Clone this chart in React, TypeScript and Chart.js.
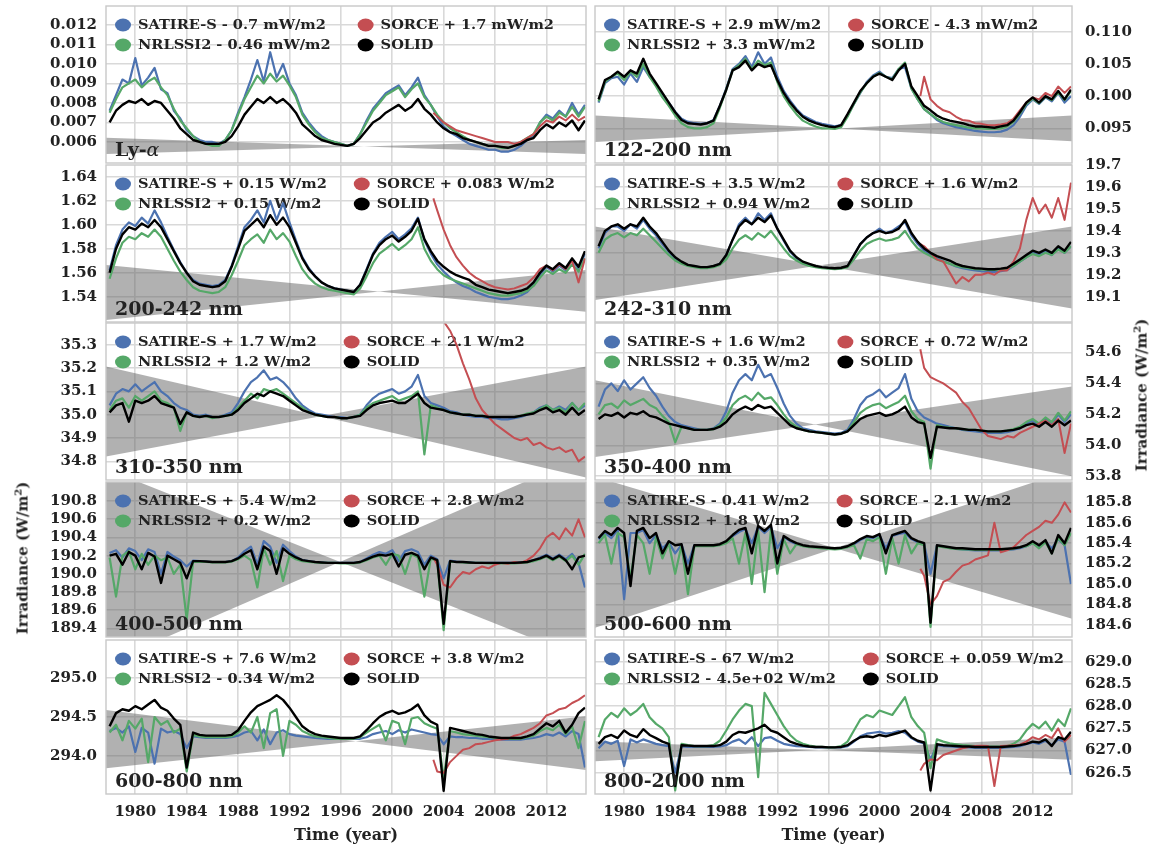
import React, { useEffect, useRef } from "react";
import { Chart, registerables } from "chart.js";
Chart.register(...registerables);

// ---------------- shared axes data ----------------
const years = [
  1978, 1978.5, 1979, 1979.5, 1980, 1980.5, 1981, 1981.5, 1982, 1982.5,
  1983, 1983.5, 1984, 1984.5, 1985, 1985.5, 1986, 1986.5, 1987, 1987.5,
  1988, 1988.5, 1989, 1989.5, 1990, 1990.5, 1991, 1991.5, 1992, 1992.5,
  1993, 1993.5, 1994, 1994.5, 1995, 1995.5, 1996, 1996.5, 1997, 1997.5,
  1998, 1998.5, 1999, 1999.5, 2000, 2000.5, 2001, 2001.5, 2002, 2002.5,
  2003, 2003.5, 2004, 2004.5, 2005, 2005.5, 2006, 2006.5, 2007, 2007.5,
  2008, 2008.5, 2009, 2009.5, 2010, 2010.5, 2011, 2011.5, 2012, 2012.5,
  2013, 2013.5, 2014, 2014.5, 2015,
];
const sorceYears = [
  2003.2, 2003.5, 2004, 2004.5, 2005, 2005.5, 2006, 2006.5, 2007, 2007.5,
  2008, 2008.5, 2009, 2009.5, 2010, 2010.5, 2011, 2011.5, 2012, 2012.5,
  2013, 2013.5, 2014, 2014.5, 2015,
];
const bandYears = [1977.72, 2015.08];
const xTicks = [1980, 1984, 1988, 1992, 1996, 2000, 2004, 2008, 2012];

// ---------------- Ly-alpha ----------------
const lyaTicks = [0.006, 0.007, 0.008, 0.009, 0.01, 0.011, 0.012];
const lyaLegend = ["SATIRE-S - 0.7 mW/m2", "SORCE + 1.7 mW/m2", "NRLSSI2 - 0.46 mW/m2", "SOLID"];
const lyaSatire = [
  0.0076, 0.0084, 0.0092, 0.009, 0.0103, 0.0089, 0.0093, 0.0098, 0.0087, 0.0085,
  0.0076, 0.0072, 0.0066, 0.0063, 0.0061, 0.006, 0.006, 0.0059, 0.0061, 0.0066,
  0.0075, 0.0083, 0.0092, 0.0102, 0.0091, 0.0106, 0.0093, 0.01, 0.009, 0.0084,
  0.0075, 0.007, 0.0066, 0.0063, 0.0061, 0.006, 0.0059, 0.0058, 0.0059, 0.0064,
  0.0071, 0.0077, 0.0081, 0.0085, 0.0087, 0.0089, 0.0084, 0.0088, 0.0093, 0.0084,
  0.0079, 0.0073, 0.0068, 0.0065, 0.0063, 0.0061, 0.0059, 0.0058, 0.0057, 0.0056,
  0.0056, 0.0055, 0.0055, 0.0056, 0.0058, 0.0061, 0.0063, 0.007, 0.0074, 0.0072,
  0.0076, 0.0073, 0.008, 0.0074, 0.0079,
];
const lyaNrl = [
  0.0075, 0.0082, 0.0088, 0.009, 0.0092, 0.0088, 0.0091, 0.0093, 0.0088, 0.0084,
  0.0077, 0.0071, 0.0067, 0.0063, 0.006, 0.0059, 0.0058, 0.0058, 0.0061, 0.0066,
  0.0074, 0.0082, 0.0088, 0.0094, 0.009, 0.0095, 0.0091, 0.0094, 0.0089, 0.0083,
  0.0074, 0.0069, 0.0065, 0.0062, 0.0061, 0.006, 0.0059, 0.0058, 0.0059, 0.0064,
  0.007, 0.0076, 0.008, 0.0084, 0.0086, 0.0088, 0.0083, 0.0087, 0.009, 0.0083,
  0.0079, 0.0074, 0.007, 0.0067, 0.0065, 0.0063, 0.0061, 0.006, 0.0059, 0.0058,
  0.0058, 0.0057, 0.0057, 0.0058, 0.006, 0.0062, 0.0064, 0.007, 0.0073, 0.0071,
  0.0075, 0.0073, 0.0078, 0.0073, 0.0078,
];
const lyaSolid = [
  0.007, 0.0076, 0.0079, 0.0081, 0.008, 0.0082, 0.0079, 0.0081, 0.008, 0.0076,
  0.0072, 0.0067, 0.0064, 0.0061, 0.006, 0.0059, 0.0059, 0.0059, 0.006, 0.0063,
  0.0068, 0.0074, 0.0078, 0.0082, 0.008, 0.0083, 0.008, 0.0082, 0.0079, 0.0075,
  0.0069, 0.0066, 0.0063, 0.0061, 0.006, 0.0059, 0.00585, 0.0058, 0.0059, 0.0062,
  0.0066, 0.007, 0.0072, 0.0075, 0.0077, 0.0079, 0.0076, 0.0078, 0.0082, 0.0077,
  0.0074, 0.007, 0.0067, 0.0065, 0.0064, 0.0062, 0.0061, 0.006, 0.0059, 0.0058,
  0.0058, 0.00575, 0.0057, 0.0058, 0.0059, 0.0061, 0.0062, 0.0066, 0.0069, 0.0067,
  0.007, 0.0068, 0.0071, 0.0066, 0.0071,
];
const lyaSorce = [
  0.0075, 0.0073, 0.007, 0.0068, 0.0066, 0.0065, 0.0064, 0.0063, 0.0062, 0.0061,
  0.006, 0.006, 0.006, 0.0059, 0.006, 0.0062, 0.0064, 0.0068, 0.0071, 0.007,
  0.0073, 0.0071, 0.0074, 0.0071, 0.0073,
];
const lyaBandP = [0.00538, 0.0061];
const lyaBandQ = [0.00622, 0.00538];

// ---------------- 122-200 nm ----------------
const fuvTicks = [0.095, 0.1, 0.105, 0.11];
const fuvLegend = ["SATIRE-S + 2.9 mW/m2", "SORCE - 4.3 mW/m2", "NRLSSI2 + 3.3 mW/m2", "SOLID"];
const fuvSatire = [
  0.099, 0.102, 0.1028, 0.103, 0.1018, 0.1035, 0.1022, 0.1045, 0.103, 0.1018,
  0.1003, 0.099, 0.0976, 0.0965, 0.096, 0.0958, 0.0957, 0.0958, 0.0963, 0.0985,
  0.1012, 0.1042, 0.105, 0.1062, 0.1045, 0.1068, 0.105, 0.106, 0.103, 0.1008,
  0.0993, 0.098, 0.097, 0.0965, 0.096, 0.0957, 0.0955, 0.0953, 0.0955, 0.097,
  0.0988, 0.1005, 0.1022, 0.1032, 0.1038, 0.103, 0.1028, 0.1042, 0.1045, 0.1012,
  0.0995, 0.098, 0.0972, 0.0963, 0.0958, 0.0955, 0.0952, 0.095, 0.0948, 0.0946,
  0.0945, 0.0944, 0.0944, 0.0945, 0.0948, 0.0955, 0.0968, 0.0985, 0.0995, 0.0988,
  0.0998, 0.0992, 0.1005, 0.099, 0.1,
];
const fuvNrl = [
  0.0992, 0.1022, 0.103, 0.1035, 0.1025, 0.1038, 0.103, 0.105, 0.103, 0.1015,
  0.0998, 0.0985, 0.097, 0.0958, 0.0952, 0.095, 0.095, 0.0952, 0.0958, 0.0982,
  0.101, 0.104, 0.1048, 0.1058, 0.1042, 0.1055, 0.1048, 0.1052, 0.1022, 0.1,
  0.0985, 0.0972, 0.0962, 0.0957, 0.0953, 0.095, 0.095, 0.0949, 0.0952, 0.0968,
  0.0988, 0.1006, 0.102, 0.103, 0.1036, 0.103, 0.1026, 0.1042, 0.1052, 0.1012,
  0.0995, 0.098, 0.0972, 0.0965, 0.096, 0.0957, 0.0955, 0.0953, 0.0951, 0.095,
  0.095, 0.0949, 0.0949, 0.095, 0.0953, 0.096, 0.0973, 0.0988, 0.0996, 0.0989,
  0.0999, 0.0994, 0.1006, 0.0994, 0.1008,
];
const fuvSolid = [
  0.0995, 0.1025, 0.103, 0.1038, 0.103, 0.104, 0.1035, 0.1058, 0.1035, 0.102,
  0.1005, 0.099, 0.0975, 0.0963, 0.0958, 0.0957, 0.0956, 0.0958, 0.0962, 0.0985,
  0.101, 0.104, 0.1045, 0.1055, 0.104, 0.105, 0.1045, 0.1048, 0.1025, 0.1005,
  0.099, 0.0978, 0.0968, 0.0962, 0.0958, 0.0955, 0.0953, 0.0952, 0.0955, 0.0972,
  0.099, 0.1008, 0.102, 0.103, 0.1035, 0.103, 0.1025, 0.104, 0.105, 0.1015,
  0.1, 0.0985, 0.0978, 0.097, 0.0965, 0.0962, 0.096, 0.0958, 0.0955, 0.0953,
  0.0953, 0.0952, 0.0951, 0.0953, 0.0955, 0.0962, 0.0975, 0.099, 0.0998, 0.099,
  0.1, 0.0995, 0.1008, 0.0995, 0.101,
];
const fuvSorce = [
  0.1, 0.103, 0.0995, 0.0985, 0.0978, 0.0975, 0.0968, 0.0963, 0.0962, 0.0958,
  0.0957, 0.0955, 0.0955, 0.0956, 0.0958, 0.0965, 0.0978, 0.099, 0.0998, 0.0995,
  0.1005, 0.1, 0.1015, 0.1005, 0.1015,
];
const fuvBandP = [0.0929, 0.097];
const fuvBandQ = [0.097, 0.093];

// ---------------- 200-242 nm ----------------
const mid1Ticks = [1.54, 1.56, 1.58, 1.6, 1.62, 1.64];
const mid1Legend = ["SATIRE-S + 0.15 W/m2", "SORCE + 0.083 W/m2", "NRLSSI2 + 0.15 W/m2", "SOLID"];
const mid1Satire = [
  1.562, 1.583, 1.596, 1.602, 1.599, 1.606, 1.601, 1.612, 1.602, 1.59,
  1.579, 1.569, 1.56, 1.554, 1.551, 1.55, 1.549, 1.55, 1.554, 1.566,
  1.582, 1.598, 1.604, 1.612, 1.602, 1.62, 1.604, 1.618, 1.602, 1.587,
  1.573, 1.564, 1.557, 1.552, 1.549, 1.547, 1.546, 1.545, 1.544, 1.55,
  1.563, 1.576, 1.585, 1.59, 1.594, 1.588, 1.592, 1.597, 1.606, 1.587,
  1.576, 1.567, 1.561, 1.556, 1.552, 1.549, 1.547, 1.544, 1.542, 1.54,
  1.539, 1.538, 1.538, 1.539, 1.541, 1.544, 1.55, 1.558, 1.565, 1.561,
  1.566, 1.562, 1.571, 1.563, 1.576,
];
const mid1Nrl = [
  1.555, 1.572, 1.585, 1.59, 1.588, 1.593, 1.59, 1.596, 1.59, 1.58,
  1.57, 1.561, 1.554, 1.548, 1.545, 1.544, 1.543, 1.544, 1.548, 1.558,
  1.57, 1.583, 1.588, 1.592, 1.585, 1.596, 1.588, 1.593, 1.586, 1.574,
  1.563, 1.556, 1.551, 1.548, 1.546, 1.545, 1.544, 1.543, 1.542, 1.547,
  1.557, 1.568, 1.576, 1.58, 1.584, 1.579, 1.583, 1.588, 1.598, 1.58,
  1.57, 1.563, 1.558, 1.555, 1.553, 1.551, 1.549, 1.547, 1.545, 1.543,
  1.542, 1.541, 1.541, 1.542, 1.543, 1.545, 1.549, 1.556, 1.562, 1.559,
  1.563, 1.56, 1.567, 1.561, 1.572,
];
const mid1Solid = [
  1.56, 1.58, 1.592, 1.598, 1.596, 1.601, 1.598, 1.604, 1.598, 1.588,
  1.578, 1.568, 1.56, 1.553, 1.55, 1.549, 1.548, 1.549, 1.553, 1.565,
  1.58, 1.595, 1.6, 1.605, 1.598, 1.608, 1.6, 1.606, 1.598, 1.585,
  1.572, 1.563, 1.557, 1.552, 1.549, 1.547, 1.546, 1.545, 1.544, 1.55,
  1.562, 1.575, 1.583, 1.588, 1.591, 1.586, 1.59, 1.595, 1.605, 1.588,
  1.578, 1.57, 1.565, 1.561, 1.558, 1.556, 1.554, 1.55, 1.548, 1.546,
  1.545, 1.544, 1.543, 1.544, 1.545, 1.547, 1.552, 1.56, 1.566, 1.563,
  1.568, 1.564, 1.572, 1.565, 1.578,
];
const mid1Sorce = [
  1.622, 1.612, 1.596, 1.583, 1.573, 1.566, 1.56, 1.556, 1.553, 1.55,
  1.548, 1.547, 1.546, 1.547, 1.549, 1.551, 1.556, 1.563, 1.566, 1.562,
  1.567, 1.563, 1.57, 1.552, 1.572,
];
const mid1BandP = [1.5206, 1.5623];
const mid1BandQ = [1.5664, 1.5275];

// ---------------- 242-310 nm ----------------
const mid2Ticks = [19.1, 19.2, 19.3, 19.4, 19.5, 19.6, 19.7];
const mid2Legend = ["SATIRE-S + 3.5 W/m2", "SORCE + 1.6 W/m2", "NRLSSI2 + 0.94 W/m2", "SOLID"];
const mid2Satire = [
  19.32, 19.39, 19.42, 19.42, 19.4, 19.43, 19.41, 19.45, 19.41, 19.38,
  19.34, 19.305, 19.275, 19.255, 19.243, 19.238, 19.233, 19.233, 19.238, 19.25,
  19.29, 19.36, 19.43, 19.46, 19.43, 19.48, 19.45, 19.48, 19.41, 19.355,
  19.305, 19.275, 19.255, 19.245, 19.237, 19.233, 19.23, 19.228, 19.23, 19.238,
  19.29, 19.34, 19.37, 19.39, 19.41, 19.39, 19.4, 19.42, 19.44, 19.38,
  19.34, 19.31, 19.29, 19.275, 19.262, 19.25, 19.238, 19.23, 19.225, 19.22,
  19.216, 19.213, 19.213, 19.216, 19.222, 19.24, 19.26, 19.28, 19.3, 19.29,
  19.305, 19.29, 19.32, 19.3, 19.33,
];
const mid2Nrl = [
  19.3, 19.36, 19.38, 19.39, 19.37, 19.39, 19.38, 19.41, 19.38, 19.35,
  19.32, 19.29, 19.265, 19.25, 19.24, 19.235, 19.23, 19.23, 19.235, 19.245,
  19.27, 19.32, 19.36, 19.38, 19.36, 19.39, 19.37, 19.4, 19.36, 19.32,
  19.285, 19.265, 19.25, 19.24, 19.235, 19.23, 19.228, 19.226, 19.228, 19.235,
  19.27, 19.31, 19.34, 19.355, 19.365, 19.355, 19.36, 19.37, 19.4, 19.355,
  19.32, 19.3, 19.285, 19.27, 19.26, 19.25, 19.24, 19.235, 19.23, 19.226,
  19.224, 19.222, 19.222, 19.224, 19.228, 19.24, 19.26, 19.28, 19.295, 19.285,
  19.3, 19.29, 19.315, 19.3, 19.33,
];
const mid2Solid = [
  19.33, 19.4, 19.42, 19.43, 19.41, 19.43, 19.42, 19.46, 19.42, 19.39,
  19.35, 19.31, 19.28, 19.26, 19.245, 19.24, 19.235, 19.235, 19.24, 19.25,
  19.29, 19.36, 19.42, 19.45, 19.43, 19.46, 19.44, 19.47, 19.41, 19.36,
  19.31, 19.28, 19.26, 19.25, 19.24, 19.235, 19.232, 19.23, 19.232, 19.24,
  19.29, 19.34, 19.37, 19.39, 19.4, 19.39, 19.395, 19.41, 19.45, 19.39,
  19.35, 19.32, 19.3, 19.285, 19.275, 19.265, 19.25, 19.24, 19.235, 19.23,
  19.228, 19.225, 19.225, 19.228, 19.232, 19.25, 19.27, 19.29, 19.31, 19.3,
  19.315, 19.3, 19.33, 19.31, 19.35,
];
const mid2Sorce = [
  19.34, 19.33, 19.3, 19.27, 19.26, 19.21, 19.16, 19.19, 19.17, 19.2,
  19.2, 19.21, 19.2, 19.22, 19.22, 19.26, 19.32, 19.45, 19.55, 19.48,
  19.52, 19.46, 19.55, 19.45, 19.62,
];
const mid2BandP = [19.085, 19.42];
const mid2BandQ = [19.42, 19.046];

// ---------------- 310-350 nm ----------------
const nuv1Ticks = [34.8, 34.9, 35.0, 35.1, 35.2, 35.3];
const nuv1Legend = ["SATIRE-S + 1.7 W/m2", "SORCE + 2.1 W/m2", "NRLSSI2 + 1.2 W/m2", "SOLID"];
const nuv1Satire = [
  35.04, 35.09, 35.11, 35.1, 35.13, 35.1, 35.12, 35.14, 35.1, 35.08,
  35.05, 35.03, 35.02, 35.0, 34.995, 35.0, 34.99, 34.99, 35.0, 35.01,
  35.05, 35.1, 35.14, 35.16, 35.19, 35.15, 35.16, 35.14, 35.11, 35.07,
  35.04, 35.02, 35.005, 35.0, 34.995, 34.99, 34.99, 34.985, 34.99, 35.0,
  35.04, 35.07, 35.09, 35.1, 35.11, 35.09, 35.1, 35.12, 35.17, 35.08,
  35.05, 35.04, 35.03, 35.015, 35.01, 35.0, 34.995, 34.99, 34.99, 34.985,
  34.985, 34.98, 34.98, 34.985, 34.99, 35.0, 35.01, 35.03, 35.04, 35.02,
  35.035, 35.02, 35.05, 35.02, 35.04,
];
const nuv1Nrl = [
  35.02, 35.06, 35.07, 35.03, 35.08, 35.06, 35.08, 35.1, 35.06, 35.05,
  35.03, 34.93, 35.01, 34.995, 34.99, 34.995, 34.985, 34.99, 34.995, 35.0,
  35.03, 35.06, 35.09, 35.07, 35.11, 35.1, 35.11, 35.09, 35.07, 35.05,
  35.03, 35.01, 35.0, 34.995, 34.99, 34.99, 34.985, 34.985, 34.99, 35.0,
  35.03, 35.05, 35.06, 35.07, 35.08, 35.06, 35.07, 35.08, 35.1, 34.83,
  35.04, 35.03, 35.02, 35.01, 35.005, 35.0, 35.0, 34.995, 34.995, 34.99,
  34.99, 34.99, 34.99, 34.99, 34.995, 35.005, 35.01, 35.025, 35.04, 35.02,
  35.03, 35.01, 35.05, 35.02, 35.05,
];
const nuv1Solid = [
  35.01, 35.04, 35.05, 34.97, 35.06, 35.05, 35.06, 35.08, 35.05, 35.04,
  35.03, 34.96, 35.01, 34.995, 34.99, 34.995, 34.99, 34.99, 34.995, 35.0,
  35.02, 35.05, 35.07, 35.09, 35.08, 35.1, 35.09, 35.08, 35.06, 35.04,
  35.02, 35.01, 35.0, 34.995, 34.99, 34.99, 34.985, 34.985, 34.99, 34.995,
  35.02, 35.04, 35.05, 35.055, 35.06, 35.05, 35.05, 35.07, 35.09, 35.05,
  35.03, 35.025, 35.02, 35.01, 35.005, 35.0, 35.0, 34.995, 34.995, 34.99,
  34.99, 34.99, 34.99, 34.99, 34.995, 35.0, 35.005, 35.02, 35.03, 35.01,
  35.02, 35.0, 35.03, 35.0, 35.02,
];
const nuv1Sorce = [
  35.6, 35.45, 35.4, 35.36, 35.3, 35.22, 35.15, 35.07, 35.02, 34.99,
  34.96, 34.94, 34.92, 34.9, 34.89, 34.9, 34.87, 34.88, 34.86, 34.85,
  34.86, 34.84, 34.85, 34.8, 34.82,
];
const nuv1BandP = [34.821, 35.207];
const nuv1BandQ = [35.207, 34.731];

// ---------------- 350-400 nm ----------------
const nuv2Ticks = [53.8, 54.0, 54.2, 54.4, 54.6];
const nuv2Legend = ["SATIRE-S + 1.6 W/m2", "SORCE + 0.72 W/m2", "NRLSSI2 + 0.35 W/m2", "SOLID"];
const nuv2Satire = [
  54.25, 54.36, 54.4, 54.35, 54.42, 54.36, 54.4, 54.44, 54.37, 54.32,
  54.25, 54.19, 54.15, 54.13, 54.12, 54.11, 54.1, 54.1, 54.11, 54.14,
  54.22, 54.34, 54.42, 54.46, 54.42, 54.52, 54.44, 54.46, 54.37, 54.27,
  54.19, 54.14, 54.11, 54.1, 54.09, 54.085, 54.08, 54.075, 54.08, 54.1,
  54.17, 54.26, 54.31, 54.33, 54.36, 54.31, 54.34, 54.37, 54.46, 54.3,
  54.22, 54.18, 54.16, 54.14, 54.13, 54.12, 54.11, 54.1, 54.095, 54.09,
  54.085, 54.08, 54.08, 54.08, 54.085, 54.095, 54.11, 54.14, 54.16, 54.13,
  54.17, 54.14, 54.2, 54.15, 54.2,
];
const nuv2Nrl = [
  54.2, 54.26, 54.27, 54.24, 54.29, 54.26, 54.28, 54.3, 54.26, 54.24,
  54.19, 54.15, 54.02, 54.12, 54.11, 54.1, 54.1, 54.1, 54.105, 54.13,
  54.18, 54.26, 54.3, 54.32, 54.29, 54.34, 54.3, 54.31, 54.26, 54.2,
  54.15, 54.12, 54.1, 54.09, 54.085, 54.08, 54.075, 54.07, 54.075, 54.09,
  54.15, 54.21, 54.24, 54.26, 54.27, 54.24, 54.26, 54.28, 54.32, 54.22,
  54.17, 54.15, 53.85, 54.13, 54.12, 54.115, 54.11, 54.105, 54.1, 54.1,
  54.095, 54.09, 54.09, 54.09, 54.095, 54.105, 54.12, 54.15, 54.17, 54.14,
  54.18, 54.15, 54.21, 54.16, 54.22,
];
const nuv2Solid = [
  54.17, 54.2, 54.19, 54.21, 54.18, 54.21, 54.2, 54.22, 54.19, 54.18,
  54.16, 54.14, 54.13, 54.12, 54.11, 54.1, 54.1, 54.1, 54.105, 54.12,
  54.15, 54.2, 54.23, 54.25, 54.23, 54.26, 54.24, 54.25, 54.21, 54.17,
  54.13, 54.11, 54.1, 54.09, 54.085, 54.08, 54.075, 54.07, 54.075, 54.09,
  54.13, 54.17, 54.19, 54.2, 54.21, 54.19, 54.2, 54.22, 54.25, 54.18,
  54.15, 54.14, 53.92, 54.12, 54.115, 54.11, 54.11, 54.105, 54.1, 54.1,
  54.095, 54.09, 54.09, 54.09, 54.095, 54.1, 54.11, 54.13, 54.14, 54.12,
  54.15, 54.12, 54.16, 54.13, 54.16,
];
const nuv2Sorce = [
  54.62, 54.5, 54.44, 54.42, 54.4, 54.37, 54.34, 54.28, 54.24, 54.17,
  54.1, 54.06, 54.05, 54.04, 54.06, 54.05, 54.08, 54.1, 54.12, 54.14,
  54.16, 54.13, 54.17, 53.95, 54.14,
];
const nuv2BandP = [53.925, 54.38];
const nuv2BandQ = [54.42, 53.8];

// ---------------- 400-500 nm ----------------
const vis1Ticks = [189.4, 189.6, 189.8, 190.0, 190.2, 190.4, 190.6, 190.8];
const vis1Legend = ["SATIRE-S + 5.4 W/m2", "SORCE + 2.8 W/m2", "NRLSSI2 + 0.2 W/m2", "SOLID"];
const vis1Satire = [
  190.23, 190.26, 190.18, 190.28, 190.25, 190.15, 190.27, 190.24, 190.0, 190.24,
  190.19, 190.15, 190.08, 190.145, 190.14, 190.135, 190.13, 190.13, 190.13, 190.14,
  190.18, 190.25, 190.3, 190.1, 190.36, 190.3, 190.12, 190.32, 190.25, 190.19,
  190.15, 190.14, 190.13, 190.125, 190.12, 190.12, 190.12, 190.12, 190.12, 190.13,
  190.17, 190.21, 190.24, 190.22, 190.26, 190.14, 190.25, 190.27, 190.24, 190.1,
  190.2, 190.16, 189.95, 190.145, 190.135, 190.13, 190.125, 190.12, 190.12, 190.12,
  190.12, 190.12, 190.12, 190.12, 190.125, 190.13, 190.15, 190.18, 190.21, 190.17,
  190.21, 190.16, 190.22, 190.12, 189.85,
];
const vis1Nrl = [
  190.18, 189.75, 190.2, 190.25, 190.05, 190.22, 190.1, 190.2, 190.15, 190.18,
  190.0, 190.1, 189.5, 190.13, 190.13, 190.13, 190.125, 190.125, 190.125, 190.135,
  190.16, 190.2, 190.15, 189.85, 190.28, 190.1, 190.25, 189.92, 190.2, 190.16,
  190.14, 190.13, 190.125, 190.12, 190.12, 190.12, 190.115, 190.115, 190.115, 190.125,
  190.15, 190.18, 190.2, 190.1, 190.22, 190.2, 190.0, 190.22, 190.18, 189.75,
  190.17, 190.14, 189.38, 190.13, 190.13, 190.125, 190.12, 190.12, 190.12, 190.115,
  190.115, 190.115, 190.115, 190.115, 190.12, 190.125, 190.14, 190.16, 190.19, 190.15,
  190.19, 190.14, 190.2, 190.1, 190.22,
];
const vis1Solid = [
  190.2, 190.22, 190.1, 190.24, 190.2, 190.05, 190.23, 190.19, 189.9, 190.2,
  190.16, 190.12, 189.95, 190.14, 190.14, 190.135, 190.13, 190.13, 190.13, 190.14,
  190.17, 190.22, 190.26, 190.05, 190.3, 190.25, 190.0, 190.28, 190.22, 190.18,
  190.15, 190.14, 190.13, 190.125, 190.12, 190.12, 190.12, 190.12, 190.12, 190.13,
  190.16, 190.19, 190.21, 190.2, 190.22, 190.08, 190.21, 190.23, 190.2, 190.05,
  190.18, 190.15, 189.45, 190.14, 190.13, 190.13, 190.125, 190.12, 190.12, 190.12,
  190.12, 190.12, 190.12, 190.12, 190.125, 190.13, 190.15, 190.17, 190.2, 190.16,
  190.2, 190.15, 190.05, 190.18, 190.2,
];
const vis1Sorce = [
  190.18, 190.1, 189.88, 189.85, 189.95, 190.02, 190.0, 190.05, 190.08, 190.06,
  190.1, 190.12, 190.11, 190.13, 190.12, 190.15, 190.2, 190.28, 190.4, 190.45,
  190.38, 190.5, 190.42, 190.6, 190.4,
];
const vis1BandP = [189.015, 191.304];
const vis1BandQ = [191.154, 189.056];

// ---------------- 500-600 nm ----------------
const vis2Ticks = [184.6, 184.8, 185.0, 185.2, 185.4, 185.6, 185.8];
const vis2Legend = ["SATIRE-S - 0.41 W/m2", "SORCE - 2.1 W/m2", "NRLSSI2 + 1.8 W/m2", "SOLID"];
const vis2Satire = [
  185.44, 185.5, 185.45, 185.53, 184.85, 185.5, 185.5, 185.53, 185.4, 185.48,
  185.35, 185.41, 185.3, 185.385, 185.2, 185.38, 185.375, 185.375, 185.375, 185.385,
  185.41, 185.47, 185.51, 185.54, 185.4, 185.56, 185.5, 185.56, 185.35, 185.46,
  185.42, 185.39, 185.375, 185.365, 185.36, 185.355, 185.35, 185.345, 185.35, 185.365,
  185.39, 185.43, 185.46, 185.45, 185.48, 185.35, 185.47, 185.49, 185.5, 185.44,
  185.41, 185.39, 185.1, 185.375, 185.365, 185.355, 185.345, 185.34, 185.335, 185.33,
  185.33, 185.33, 185.33, 185.33, 185.335, 185.34, 185.35, 185.37, 185.4, 185.37,
  185.41, 185.35, 185.44, 185.38, 185.0,
];
const vis2Nrl = [
  185.4, 185.48, 185.2, 185.5, 185.46, 185.05, 185.48, 185.4, 185.1, 185.46,
  185.25, 185.4, 185.1, 185.38, 184.9, 185.37, 185.37, 185.37, 185.37, 185.38,
  185.4, 185.45, 185.2, 185.5, 185.0, 185.52, 184.92, 185.53, 185.1, 185.44,
  185.3, 185.39, 185.37, 185.36, 185.355, 185.35, 185.345, 185.34, 185.345, 185.36,
  185.38, 185.25, 185.44, 185.42, 185.46, 185.1, 185.45, 185.2, 185.48, 185.3,
  185.4, 185.38, 184.58, 185.37, 185.36, 185.35, 185.345, 185.34, 185.34, 185.335,
  185.335, 185.335, 185.335, 185.335, 185.34, 185.345, 185.36, 185.37, 185.4, 185.35,
  185.41, 185.3, 185.45, 185.38, 185.5,
];
const vis2Solid = [
  185.45, 185.52, 185.48, 185.55, 185.5, 184.98, 185.52, 185.55, 185.45, 185.5,
  185.3, 185.42, 185.38, 185.39, 185.1, 185.38, 185.38, 185.38, 185.38, 185.39,
  185.42, 185.48, 185.53, 185.55, 185.3, 185.57, 185.52, 185.58, 185.2, 185.47,
  185.43, 185.4, 185.38, 185.37, 185.365, 185.36, 185.355, 185.35, 185.355, 185.37,
  185.4, 185.44, 185.47, 185.46, 185.49, 185.3, 185.48, 185.5, 185.52, 185.45,
  185.42, 185.4, 184.62, 185.38, 185.37, 185.36, 185.35, 185.35, 185.345, 185.34,
  185.34, 185.34, 185.34, 185.34, 185.345, 185.35, 185.36, 185.38, 185.42, 185.38,
  185.43, 185.3, 185.48, 185.4, 185.55,
];
const vis2Sorce = [
  185.15, 185.08, 184.8, 184.88, 185.02, 185.05, 185.12, 185.18, 185.2, 185.24,
  185.26, 185.28, 185.6, 185.31, 185.33, 185.36, 185.42, 185.48, 185.52, 185.56,
  185.62, 185.6, 185.68, 185.8, 185.7,
];
const vis2BandP = [184.571, 186.122];
const vis2BandQ = [186.052, 184.658];

// ---------------- 600-800 nm ----------------
const red1Ticks = [294.0, 294.5, 295.0];
const red1Legend = ["SATIRE-S + 7.6 W/m2", "SORCE + 3.8 W/m2", "NRLSSI2 - 0.34 W/m2", "SOLID"];
const red1Satire = [
  294.32, 294.36, 294.3, 294.38, 294.05, 294.36, 294.3, 293.9, 294.35, 294.3,
  294.32, 294.28, 294.1, 294.25, 294.24, 294.23, 294.23, 294.23, 294.23, 294.24,
  294.26, 294.3, 294.32, 294.2, 294.34, 294.15, 294.3, 294.33, 294.28, 294.26,
  294.25, 294.24, 294.23, 294.225, 294.22, 294.22, 294.22, 294.22, 294.22, 294.22,
  294.24, 294.28, 294.3, 294.32, 294.28, 294.33, 294.3, 294.34, 294.32, 294.3,
  294.28, 294.27, 294.15, 294.25, 294.24, 294.24, 294.23, 294.23, 294.22, 294.22,
  294.22, 294.21, 294.21, 294.21, 294.21, 294.22, 294.23, 294.25, 294.28, 294.26,
  294.3, 294.25, 294.32, 294.28, 293.85,
];
const red1Nrl = [
  294.3, 294.4, 294.2, 294.45, 294.35, 294.48, 293.92, 294.5, 294.4, 294.45,
  294.3, 294.35, 293.8, 294.27, 294.25, 294.24, 294.24, 294.24, 294.24, 294.25,
  294.3, 294.38, 294.3, 294.5, 294.1, 294.55, 294.6, 294.0, 294.45, 294.4,
  294.32, 294.28, 294.25, 294.24, 294.23, 294.22, 294.22, 294.22, 294.22, 294.24,
  294.3, 294.35, 294.4, 294.2, 294.45, 294.42, 294.15, 294.48, 294.5, 294.42,
  294.38, 294.35, 293.7, 294.32, 294.3, 294.28, 294.27, 294.26, 294.25, 294.24,
  294.23, 294.22, 294.22, 294.22, 294.22, 294.24, 294.26, 294.32, 294.36, 294.33,
  294.4, 294.28, 294.38, 294.1, 294.45,
];
const red1Solid = [
  294.38, 294.55, 294.6, 294.58, 294.64, 294.6, 294.66, 294.72, 294.62, 294.58,
  294.48, 294.4, 293.85, 294.3, 294.27, 294.26, 294.26, 294.26, 294.26, 294.27,
  294.33, 294.45, 294.56, 294.64, 294.68, 294.72, 294.78, 294.72, 294.62, 294.5,
  294.38, 294.32, 294.28, 294.26, 294.25, 294.24, 294.23, 294.23, 294.23, 294.25,
  294.33, 294.42, 294.5, 294.55, 294.58, 294.54, 294.56, 294.6, 294.66, 294.52,
  294.44, 294.4, 293.55, 294.36, 294.34, 294.32, 294.3, 294.28, 294.27, 294.25,
  294.24, 294.23, 294.23, 294.23, 294.23, 294.25, 294.28, 294.35, 294.42, 294.38,
  294.45, 294.3, 294.4, 294.55, 294.62,
];
const red1Sorce = [
  293.95, 293.8, 293.78, 293.92, 294.0, 294.08, 294.1, 294.15, 294.16, 294.18,
  294.2, 294.21, 294.22, 294.26, 294.28, 294.32, 294.36, 294.42, 294.52, 294.55,
  294.6, 294.62, 294.68, 294.72, 294.78,
];
const red1BandP = [293.84, 294.51];
const red1BandQ = [294.59, 293.82];

// ---------------- 800-2000 nm ----------------
const nirTicks = [626.5, 627.0, 627.5, 628.0, 628.5, 629.0];
const nirLegend = ["SATIRE-S - 67 W/m2", "SORCE + 0.059 W/m2", "NRLSSI2 - 4.5e+02 W/m2", "SOLID"];
const nirSatire = [
  627.05, 627.2, 627.15, 627.22, 626.65, 627.25, 627.18, 627.25, 627.2, 627.15,
  627.12, 627.1, 626.5, 627.09, 627.08, 627.08, 627.08, 627.08, 627.08, 627.09,
  627.12, 627.2, 627.25, 627.15, 627.3, 627.1, 627.28, 627.3, 627.22, 627.15,
  627.12, 627.1, 627.09, 627.08, 627.07, 627.07, 627.07, 627.07, 627.07, 627.1,
  627.2, 627.32, 627.38, 627.4, 627.42, 627.38, 627.4, 627.44, 627.4, 627.28,
  627.2, 627.16, 626.8, 627.12, 627.1, 627.09, 627.08, 627.07, 627.07, 627.06,
  627.06, 627.06, 627.06, 627.06, 627.07, 627.08, 627.1, 627.14, 627.18, 627.15,
  627.22, 627.12, 627.25, 627.2, 626.45,
];
const nirNrl = [
  627.3, 627.7, 627.85, 627.75, 627.95, 627.8, 627.9, 628.05, 627.75, 627.6,
  627.5, 627.3, 626.1, 627.15, 627.12, 627.1, 627.1, 627.1, 627.12, 627.22,
  627.45, 627.7, 627.9, 628.05, 628.0, 626.4, 628.3, 628.05, 627.8, 627.55,
  627.35, 627.22, 627.15, 627.11, 627.09, 627.08, 627.07, 627.07, 627.1, 627.2,
  627.45, 627.7, 627.8, 627.75, 627.9, 627.85, 627.8, 628.0, 628.2, 627.75,
  627.55, 627.4, 626.6, 627.25, 627.2, 627.16, 627.14, 627.12, 627.11, 627.1,
  627.1, 627.09, 627.09, 627.09, 627.1, 627.15, 627.25, 627.45, 627.6, 627.5,
  627.65, 627.45, 627.7, 627.55, 627.95,
];
const nirSolid = [
  627.15, 627.3, 627.35, 627.28, 627.45, 627.35, 627.3, 627.48, 627.35, 627.28,
  627.2, 627.15, 626.2, 627.12, 627.11, 627.1, 627.1, 627.1, 627.1, 627.12,
  627.2, 627.35, 627.42, 627.4, 627.45, 627.5, 627.58, 627.45, 627.4, 627.3,
  627.2, 627.15, 627.11, 627.09, 627.08, 627.08, 627.07, 627.07, 627.08, 627.12,
  627.22, 627.3, 627.32, 627.3, 627.35, 627.32, 627.36, 627.4, 627.45, 627.3,
  627.22, 627.18, 626.1, 627.14, 627.12, 627.11, 627.1, 627.09, 627.09, 627.08,
  627.08, 627.08, 627.08, 627.08, 627.09, 627.1, 627.12, 627.15, 627.2, 627.18,
  627.25, 627.1, 627.3, 627.25, 627.42,
];
const nirSorce = [
  626.55, 626.7, 626.8, 626.78, 626.9, 626.95, 627.0, 627.05, 627.08, 627.1,
  627.11, 627.1, 626.2, 627.1, 627.11, 627.12, 627.13, 627.2, 627.3, 627.25,
  627.35, 627.28, 627.5, 627.2, 627.35,
];
const nirBandP = [626.76, 627.3];
const nirBandQ = [627.21, 626.79];

// ---------------- styling / layout ----------------
const FONT = "'DejaVu Serif', 'Liberation Serif', serif";
const TXT = "#222222";
const GRID = "#d9d9d9";
const EDGE = "#c8c8c8";
const BAND = "rgba(100,100,100,0.5)";
const BLUE = "#4c72b0";
const GREEN = "#55a868";
const RED = "#c44e52";
const BLACK = "#000000";
const X_MIN = 1977.72;
const X_MAX = 2015.08;
const PAD = 10;
const LEGEND_SX = 1.12;
const ROWS: [number, number][] = [[6, 163], [165, 322], [323, 480], [482, 637], [640, 794]];

type PanelCfg = {
  name: string; col: number; row: number;
  yMin: number; yMax: number; ticks: number[]; dec: number; legend: string[];
  satire: number[]; nrl: number[]; solid: number[]; sorce: number[];
  bandP: number[]; bandQ: number[];
};

const panels: PanelCfg[] = [
  { name: "Ly-α", col: 0, row: 0, yMin: 0.00492, yMax: 0.01297, ticks: lyaTicks, dec: 3, legend: lyaLegend,
    satire: lyaSatire, nrl: lyaNrl, solid: lyaSolid, sorce: lyaSorce, bandP: lyaBandP, bandQ: lyaBandQ },
  { name: "122-200 nm", col: 1, row: 0, yMin: 0.08963, yMax: 0.11398, ticks: fuvTicks, dec: 3, legend: fuvLegend,
    satire: fuvSatire, nrl: fuvNrl, solid: fuvSolid, sorce: fuvSorce, bandP: fuvBandP, bandQ: fuvBandQ },
  { name: "200-242 nm", col: 0, row: 1, yMin: 1.519, yMax: 1.6498, ticks: mid1Ticks, dec: 2, legend: mid1Legend,
    satire: mid1Satire, nrl: mid1Nrl, solid: mid1Solid, sorce: mid1Sorce, bandP: mid1BandP, bandQ: mid1BandQ },
  { name: "242-310 nm", col: 1, row: 1, yMin: 18.985, yMax: 19.7, ticks: mid2Ticks, dec: 1, legend: mid2Legend,
    satire: mid2Satire, nrl: mid2Nrl, solid: mid2Solid, sorce: mid2Sorce, bandP: mid2BandP, bandQ: mid2BandQ },
  { name: "310-350 nm", col: 0, row: 2, yMin: 34.72, yMax: 35.393, ticks: nuv1Ticks, dec: 1, legend: nuv1Legend,
    satire: nuv1Satire, nrl: nuv1Nrl, solid: nuv1Solid, sorce: nuv1Sorce, bandP: nuv1BandP, bandQ: nuv1BandQ },
  { name: "350-400 nm", col: 1, row: 2, yMin: 53.776, yMax: 54.79, ticks: nuv2Ticks, dec: 1, legend: nuv2Legend,
    satire: nuv2Satire, nrl: nuv2Nrl, solid: nuv2Solid, sorce: nuv2Sorce, bandP: nuv2BandP, bandQ: nuv2BandQ },
  { name: "400-500 nm", col: 0, row: 3, yMin: 189.305, yMax: 191.01, ticks: vis1Ticks, dec: 1, legend: vis1Legend,
    satire: vis1Satire, nrl: vis1Nrl, solid: vis1Solid, sorce: vis1Sorce, bandP: vis1BandP, bandQ: vis1BandQ },
  { name: "500-600 nm", col: 1, row: 3, yMin: 184.48, yMax: 186.0, ticks: vis2Ticks, dec: 1, legend: vis2Legend,
    satire: vis2Satire, nrl: vis2Nrl, solid: vis2Solid, sorce: vis2Sorce, bandP: vis2BandP, bandQ: vis2BandQ },
  { name: "600-800 nm", col: 0, row: 4, yMin: 293.51, yMax: 295.49, ticks: red1Ticks, dec: 1, legend: red1Legend,
    satire: red1Satire, nrl: red1Nrl, solid: red1Solid, sorce: red1Sorce, bandP: red1BandP, bandQ: red1BandQ },
  { name: "800-2000 nm", col: 1, row: 4, yMin: 626.02, yMax: 629.49, ticks: nirTicks, dec: 1, legend: nirLegend,
    satire: nirSatire, nrl: nirNrl, solid: nirSolid, sorce: nirSorce, bandP: nirBandP, bandQ: nirBandQ },
];

function makeDecor(p: PanelCfg) {
  return {
    id: "panelDecor",
    afterDatasetDraw(chart: any, args: any) {
      if (args.index !== 1) return;
      const ctx = chart.ctx as any;
      const a = chart.chartArea;
      const labels = p.legend;
      ctx.save();
      ctx.font = `bold 13px ${FONT}`;
      ctx.textBaseline = "middle";
      ctx.textAlign = "left";
      const w = Math.max(ctx.measureText(labels[0]).width, ctx.measureText(labels[2]).width) * LEGEND_SX;
      const c1 = a.left + 17;
      const c2 = a.left + 32 + w + 35;
      const r1 = a.top + 19;
      const r2 = a.top + 39;
      const items: [string, number, number, string][] = [
        [labels[0], c1, r1, BLUE], [labels[1], c2, r1, RED],
        [labels[2], c1, r2, GREEN], [labels[3], c2, r2, BLACK],
      ];
      for (const [t, cx, cy, col] of items) {
        ctx.fillStyle = col;
        ctx.beginPath();
        ctx.ellipse(cx, cy, 8, 6.5, 0, 0, Math.PI * 2);
        ctx.fill();
        ctx.save();
        ctx.translate(cx + 15, cy + 1);
        ctx.scale(LEGEND_SX, 1);
        ctx.fillStyle = TXT;
        ctx.fillText(t, 0, 0);
        ctx.restore();
      }
      ctx.restore();
    },
    afterDatasetsDraw(chart: any) {
      const ctx = chart.ctx as any;
      const a = chart.chartArea;
      ctx.save();
      ctx.fillStyle = TXT;
      ctx.textBaseline = "alphabetic";
      ctx.textAlign = "left";
      const x = a.left + 9;
      const y = a.bottom - 7;
      if (p.name === "Ly-α") {
        ctx.font = `bold 19px ${FONT}`;
        ctx.fillText("Ly-", x, y);
        const w = ctx.measureText("Ly-").width;
        ctx.font = `italic 19px ${FONT}`;
        ctx.fillText("α", x + w, y);
      } else {
        ctx.font = `bold 19px ${FONT}`;
        ctx.fillText(p.name, x, y);
      }
      ctx.strokeStyle = EDGE;
      ctx.lineWidth = 1.4;
      ctx.strokeRect(a.left, a.top, a.right - a.left, a.bottom - a.top);
      ctx.restore();
    },
  };
}

function buildConfig(p: PanelCfg) {
  const isLeft = p.col === 0;
  const lastRow = p.row === 4;
  const xy = (xs: number[], ys: number[]) => xs.map((x, i) => ({ x, y: ys[i] }));
  const line = (data: any[], color: string, w: number, order: number) => ({
    data, borderColor: color, borderWidth: w, pointRadius: 0, fill: false, order,
    tension: 0, borderJoinStyle: "round",
  });
  const tickFont = { family: FONT, size: 15, weight: "bold" };
  return {
    type: "line",
    data: {
      datasets: [
        { data: xy(bandYears, p.bandP), borderColor: "rgba(0,0,0,0)", borderWidth: 0, pointRadius: 0,
          backgroundColor: BAND, fill: 1, order: 10 },
        { data: xy(bandYears, p.bandQ), borderColor: "rgba(0,0,0,0)", borderWidth: 0, pointRadius: 0,
          fill: false, order: 9 },
        line(xy(years, p.satire), BLUE, 2.2, 4),
        line(xy(years, p.nrl), GREEN, 2.2, 3),
        line(xy(sorceYears, p.sorce), RED, 2.0, 2),
        line(xy(years, p.solid), BLACK, 2.4, 1),
      ],
    },
    options: {
      responsive: false,
      maintainAspectRatio: false,
      animation: false,
      events: [],
      layout: { padding: { top: PAD, bottom: 0, left: isLeft ? 0 : 4, right: isLeft ? 4 : 0 } },
      plugins: { legend: { display: false }, tooltip: { enabled: false } },
      scales: {
        x: {
          type: "linear", position: "bottom", min: X_MIN, max: X_MAX,
          afterBuildTicks: (s: any) => { s.ticks = xTicks.map((v) => ({ value: v })); },
          afterFit: (s: any) => { s.height = lastRow ? 52 : PAD; s.paddingLeft = 0; s.paddingRight = 0; },
          grid: { color: GRID, lineWidth: 1.6, drawTicks: false },
          border: { display: false },
          ticks: { display: lastRow, autoSkip: false, maxRotation: 0, padding: 9, font: tickFont, color: TXT,
            callback: (v: any) => String(v) },
          title: { display: lastRow, text: "Time (year)", color: TXT,
            font: { family: FONT, size: 16, weight: "bold" }, padding: { top: 0, bottom: 1 } },
        },
        y: {
          type: "linear", position: isLeft ? "left" : "right", min: p.yMin, max: p.yMax,
          afterBuildTicks: (s: any) => { s.ticks = p.ticks.map((v) => ({ value: v })); },
          afterFit: (s: any) => { s.width = isLeft ? 106 : 83; s.paddingTop = 0; s.paddingBottom = 0; },
          grid: { color: GRID, lineWidth: 1.6, drawTicks: false },
          border: { display: false },
          ticks: { autoSkip: false, padding: isLeft ? 9 : 13, font: tickFont, color: TXT,
            callback: (v: any) => Number(v).toFixed(p.dec) },
        },
      },
    },
    plugins: [makeDecor(p)],
  };
}

function PanelChart({ p }: { p: PanelCfg }) {
  const ref = useRef<HTMLCanvasElement>(null);
  const [pt, pb] = ROWS[p.row];
  const left = p.col === 0 ? 0 : 591;
  const width = p.col === 0 ? 590 : 564;
  const top = pt - PAD;
  const height = p.row === 4 ? 846 - top : pb - pt + 2 * PAD;
  useEffect(() => {
    const chart = new Chart(ref.current as HTMLCanvasElement, buildConfig(p) as any);
    return () => chart.destroy();
  }, []);
  return (
    <canvas ref={ref} width={width} height={height}
      style={{ position: "absolute", left, top, width, height }} />
  );
}

const titleStyle: React.CSSProperties = {
  position: "absolute",
  transform: "translate(-50%, -50%) rotate(-90deg)",
  font: `bold 15px ${FONT}`,
  color: TXT,
  whiteSpace: "nowrap",
};

export default function App() {
  return (
    <div style={{ position: "absolute", left: 0, top: 0, width: 1155, height: 846, background: "#ffffff", overflow: "hidden" }}>
      {panels.map((p) => <PanelChart key={p.name} p={p} />)}
      <div style={{ ...titleStyle, left: 22, top: 558 }}>
        Irradiance (W/m<sup style={{ fontSize: "10px" }}>2</sup>)
      </div>
      <div style={{ ...titleStyle, left: 1141, top: 395 }}>
        Irradiance (W/m<sup style={{ fontSize: "10px" }}>2</sup>)
      </div>
    </div>
  );
}
